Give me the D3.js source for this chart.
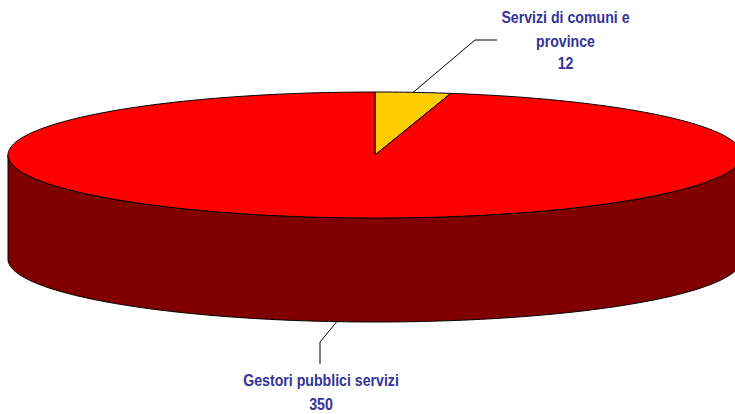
<!DOCTYPE html>
<html>
<head>
<meta charset="utf-8">
<script src="https://d3js.org/d3.v7.min.js"></script>
<style>
html, body { margin: 0; padding: 0; background: #fff; overflow: hidden; }
svg { display: block; }
text { font-family: "Liberation Sans", Arial, sans-serif; font-weight: bold; font-size: 16px; fill: #333399; text-anchor: middle; }
</style>
</head>
<body>
<svg></svg>
<script>
var width = 735;
var height = 414;

var categories = ["Servizi di comuni e province", "Gestori pubblici servizi"];
var values = [12, 350];
var topColors = ["#ffcc00", "#ff0000"];
var sideColor = "#800000";

// label lines, one list per category
var labelLines = [["Servizi di comuni e", "province", "12"], ["Gestori pubblici servizi", "350"]];

var svg = d3.select("svg").attr("width", width).attr("height", height);

// Flattened pie: unit circle mapped onto an ellipse
var xScale = d3.scaleLinear().domain([-1, 1]).range([8, 742]);
var yScale = d3.scaleLinear().domain([-1, 1]).range([218, 92]);
var depth = 104;

var slices = d3.pie().sort(null)(values);

function rimPoint(angle, drop) {
	return [xScale(Math.sin(angle)), yScale(Math.cos(angle)) + (drop || 0)];
}

function rim(a0, a1, drop) {
	var n = Math.max(2, Math.ceil(Math.abs(a1 - a0) * 60));
	return d3.range(n + 1).map(function (i) { return rimPoint(a0 + (a1 - a0) * i / n, drop); });
}

var line = d3.line();

// Wall: the front half of the rim, and the same rim pushed down
var wall = rim(Math.PI / 2, Math.PI * 1.5, 0).concat(rim(Math.PI * 1.5, Math.PI / 2, depth));
svg.append("path")
	.attr("d", line(wall) + "Z")
	.style("fill", sideColor)
	.style("stroke", "#000")
	.style("stroke-width", 1);

// Top face
svg.selectAll("path.slice").data(slices).enter().append("path")
	.attr("class", "slice")
	.attr("d", function (d) {
		return line([[xScale(0), yScale(0)]].concat(rim(d.startAngle, d.endAngle, 0))) + "Z";
	})
	.style("fill", function (d, i) { return topColors[i]; })
	.style("stroke", "#000")
	.style("stroke-width", 1)
	.style("stroke-linejoin", "round");

// Leader lines start at the middle of each slice's visible edge
var leaderBends = [[[475, 40], [497, 40]], [[320, 342], [320, 364]]];
var leaderDrops = [0, depth];

svg.selectAll("path.leader").data(slices).enter().append("path")
	.attr("class", "leader")
	.attr("d", function (d, i) {
		return line([rimPoint((d.startAngle + d.endAngle) / 2, leaderDrops[i])].concat(leaderBends[i]));
	})
	.style("fill", "none")
	.style("stroke", "#000")
	.style("stroke-width", 1);

// Labels, squeezed sideways because the original face is a narrow one
var labelX = [565.5, 321];
var labelY = [[23, 47, 69], [386, 410]];
var squeeze = 0.885;

categories.forEach(function (c, i) {
	labelLines[i].forEach(function (t, j) {
		svg.append("text")
			.attr("transform", "translate(" + labelX[i] + "," + labelY[i][j] + ") scale(" + squeeze + ",1)")
			.text(t);
	});
});
</script>
</body>
</html>
